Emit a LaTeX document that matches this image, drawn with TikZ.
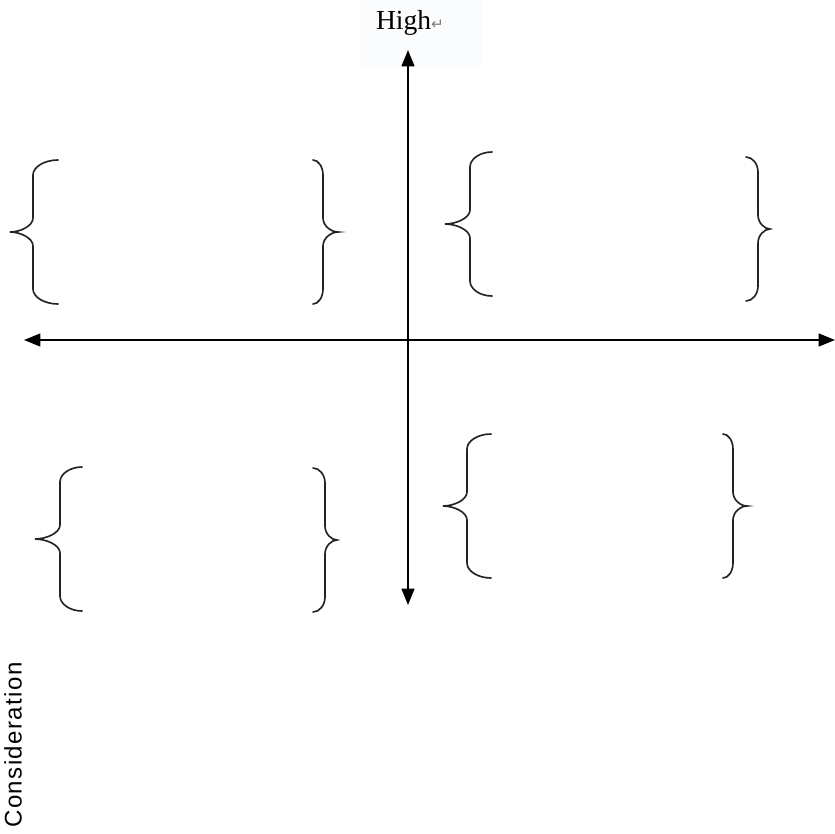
\documentclass[tikz,border=0pt]{standalone}
\usepackage{fontspec}
\setmainfont{Liberation Serif}
\newfontfamily\labelsans{Liberation Sans}
\newfontfamily\marksfont{DejaVu Sans}
\usetikzlibrary{arrows.meta}
\definecolor{curlgray}{RGB}{35,35,35}
\definecolor{hilite}{RGB}{250,252,254}

% one curly brace: tip x, tip y, stem x, end x, half height
\newcommand{\curl}[5]{%
  \draw[curl] (#4,{#2-#5})
    .. controls ({#4+0.55*(#3-#4)},{#2-#5}) and (#3,{#2-#5+7}) .. (#3,{#2-#5+15})
    -- (#3,{#2-14})
    .. controls (#3,{#2-6}) and ({#1+0.45*(#3-#1)},#2) .. (#1,#2)
    .. controls ({#1+0.45*(#3-#1)},#2) and (#3,{#2+6}) .. (#3,{#2+14})
    -- (#3,{#2+#5-15})
    .. controls (#3,{#2+#5-7}) and ({#4+0.55*(#3-#4)},{#2+#5}) .. (#4,{#2+#5});}

\begin{document}
\begin{tikzpicture}[x=0.03cm, y=-0.03cm,
    axis/.style={black, line width=1.6pt, {Triangle[length=14pt,width=11pt]}-{Triangle[length=14pt,width=11pt]}},
    curl/.style={curlgray, line width=1.4pt, line cap=round}]
    \useasboundingbox (0,0) rectangle (835,833);
    % --- label on top ---
    \fill[hilite] (360,0) rectangle (482,66);
    \node[font=\fontsize{23.5}{26}\selectfont, inner sep=0pt] (high) at (410,23)
      {High\textcolor{gray}{\marksfont\fontsize{13}{14}\selectfont ↵}};
    % --- axes ---
    \coordinate (north) at (408,50);
    \coordinate (south) at (408,605);
    \coordinate (west) at (24,340);
    \coordinate (east) at (835,340);
    \draw[axis] (south) -- (north);
    \draw[axis] (west) -- (east);
    % --- braces, upper half ---
    \curl{10}{232}{33}{58}{72}
    \curl{338}{232}{323}{313}{72}
    \curl{445}{224}{470}{492}{72}
    \curl{770}{229}{758}{746}{72}
    % --- braces, lower half ---
    \curl{35}{539}{60}{82}{72}
    \curl{337}{540}{325}{313}{72}
    \curl{443}{506}{467}{491}{72}
    \curl{747}{506}{733}{723}{72}
    % --- side label ---
    \node[rotate=90, font=\labelsans\fontsize{20.5}{24}\selectfont, inner sep=0pt] (consid) at (13,745)
      {\addfontfeature{LetterSpace=6}Consideration};
\end{tikzpicture}
\end{document}
